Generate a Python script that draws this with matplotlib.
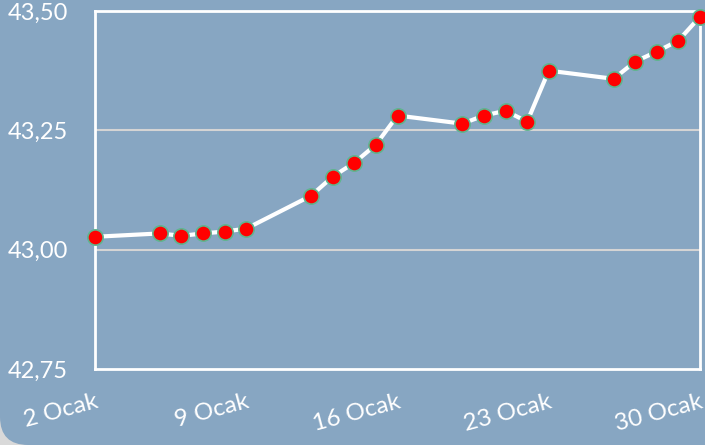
import matplotlib.pyplot as plt
from matplotlib.patches import FancyBboxPatch

# January day numbers and values
days = [2, 5, 6, 7, 8, 9, 12, 13, 14, 15, 16, 19, 20, 21, 22, 23, 26, 27, 28, 29, 30]
values = [43.027, 43.034, 43.029, 43.034, 43.038, 43.044, 43.113, 43.153, 43.182,
          43.220, 43.281, 43.264, 43.281, 43.291, 43.268, 43.375, 43.358, 43.394,
          43.415, 43.438, 43.488]
tick_days = [2, 9, 16, 23, 30]
tick_labels = ['2 Ocak', '9 Ocak', '16 Ocak', '23 Ocak', '30 Ocak']
y_ticks = [42.75, 43.00, 43.25, 43.50]
y_labels = ['42,75', '43,00', '43,25', '43,50']

bg = '#87a6c2'
plt.rcParams['font.family'] = ['Lato', 'DejaVu Sans']

fig = plt.figure(figsize=(7.05, 4.45), dpi=100)
fig.patch.set_facecolor('#d9d9d9')
# rounded background card (only bottom-left corner visible)
card = FancyBboxPatch((0.0, 0.0), 1.2, 1.2, boxstyle='round,pad=0,rounding_size=0.04',
                      transform=fig.transFigure, facecolor=bg, edgecolor='none',
                      mutation_aspect=705 / 445, zorder=-5)
fig.patches.append(card)

ax = fig.add_axes([95 / 705, 1 - 369 / 445, 605 / 705, 358 / 445])
ax.set_facecolor(bg)

ax.plot(days, values, color='white', lw=3, zorder=3, clip_on=False,
        marker='o', markersize=11, markerfacecolor='#ff0000',
        markeredgecolor='#5fb58f', markeredgewidth=1.2)

ax.set_xlim(2, 30)
ax.set_ylim(42.75, 43.50)
ax.set_yticks(y_ticks)
ax.set_yticklabels(y_labels)
ax.set_xticks(tick_days)
ax.set_xticklabels(tick_labels, rotation=15, ha='right', rotation_mode='anchor')

for y in [43.00, 43.25]:
    ax.axhline(y, color='#d4d4d4', lw=1.5, zorder=1)

for side in ['top', 'left', 'right', 'bottom']:
    ax.spines[side].set_color('white')
    ax.spines[side].set_linewidth(2)

ax.tick_params(axis='y', length=0, colors='white', labelsize=17)
ax.tick_params(axis='x', length=0, colors='white', labelsize=17.5, pad=16)
for lbl in ax.get_yticklabels():
    lbl.set_horizontalalignment('left')
ax.tick_params(axis='y', pad=63)

fig.savefig('out.png', dpi=100, facecolor=fig.get_facecolor())
